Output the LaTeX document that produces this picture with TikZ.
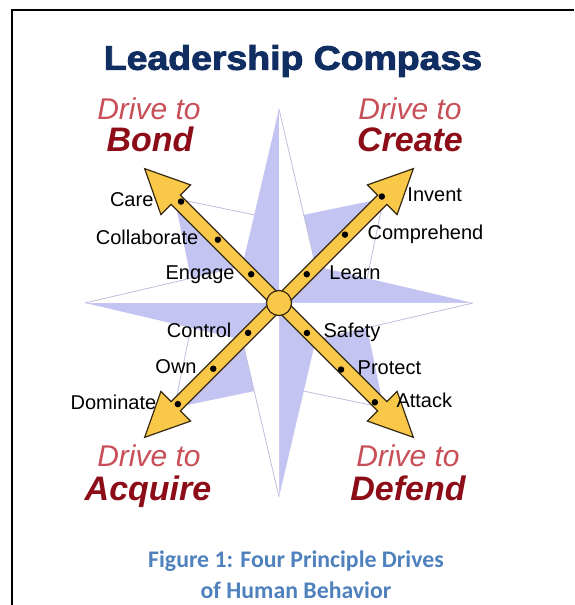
\documentclass[tikz,border=0pt]{standalone}
\usepackage{fontspec}
\setmainfont{Liberation Sans}
\newfontfamily\capfont{Carlito}
\newfontfamily\headfont[BoldFeatures={FakeBold=2.5}]{Liberation Sans}
\usepackage{tikz}
\usetikzlibrary{calc, positioning}
\definecolor{starblue}{RGB}{196,196,242}
\definecolor{starline}{RGB}{190,190,222}
\definecolor{arrowfill}{RGB}{250,200,72}
\definecolor{arrowline}{RGB}{55,42,20}
\definecolor{titlenavy}{RGB}{16,46,98}
\definecolor{drivepink}{RGB}{200,78,88}
\definecolor{drivered}{RGB}{140,12,24}
\definecolor{capblue}{RGB}{79,129,189}
\tikzstyle{bead}=[inner sep=0pt, shape=circle, fill=black, minimum size=6.5pt]
\tikzstyle{word}=[inner sep=0pt, font=\fontsize{20}{22}\selectfont, text height=14pt, text depth=4pt]
\tikzstyle{drive}=[inner sep=0pt, font=\fontsize{30}{32}\selectfont\itshape, text=drivepink, text height=21.5pt, text depth=0pt]
\tikzstyle{goal}=[inner sep=0pt, font=\fontsize{34}{36}\selectfont\bfseries\itshape, text=drivered, text height=24.5pt, text depth=0pt]
\tikzstyle{shaft}=[fill=arrowfill, draw=arrowline, line width=1.2pt, line join=miter]
\tikzstyle{capline}=[inner sep=0pt, font=\capfont\bfseries\fontsize{23.8}{26}\selectfont, text=capblue]

\begin{document}
\begin{tikzpicture}[x=1pt, y=1pt]
% the page and the frame
\useasboundingbox (-279,-302) rectangle (295,303);
\coordinate (F0) at (-267,-302);
\coordinate (F1) at (-267,293);
\coordinate (F2) at (295,293);
\draw[line width=2pt] (F0) -- (F1) -- (F2);
% the title
\node[inner sep=0pt, font=\headfont\bfseries\fontsize{34}{36}\selectfont, text=titlenavy] (title) at (14,242) {\scalebox{1.1}[1]{Leadership Compass}};
% the diagonal points of the star
\foreach \a in {45,135,225,315} {
  \fill[starblue] (0,0) -- (\a:148) -- (\a+45:83) -- cycle;
  \fill[white] (0,0) -- (\a:148) -- (\a-45:83) -- cycle;
  \draw[starline, line width=0.8pt] (\a:148) -- (\a-45:83);
}
% the main points of the star
\foreach \a in {0,90,180,270} {
  \fill[starblue] (0,0) -- (\a:194) -- (\a+45:52) -- cycle;
  \fill[white] (0,0) -- (\a:194) -- (\a-45:52) -- cycle;
  \draw[starline, line width=0.8pt] (\a:194) -- (\a-45:52);
}
% the two double arrows
\foreach \r in {135,45} {
  \draw[shaft, rotate=\r] (190,0) -- (146,21) -- (146,6.5) -- (-146,6.5) -- (-146,21) -- (-190,0)
    -- (-146,-21) -- (-146,-6.5) -- (146,-6.5) -- (146,-21) -- cycle;
}
\node[circle, inner sep=0pt, minimum size=25pt, fill=arrowfill, draw=arrowline, line width=1.2pt] (hub) at (0,0) {};
% the beads on the arrows
\node[bead, label={[word, label distance=24pt]180:Care}] (care) at (134:141) {};
\node[bead, label={[word, label distance=16pt]180:Collaborate}] (collab) at (134:88) {};
\node[bead, label={[word, label distance=13pt]180:Engage}] (engage) at (134:40) {};
\node[bead, label={[word, label distance=22pt]0:Invent}] (invent) at (46:148) {};
\node[bead, label={[word, label distance=19pt]0:Comprehend}] (compr) at (46:95) {};
\node[bead, label={[word, label distance=19pt]0:Learn}] (learn) at (46:40) {};
\node[bead, label={[word, label distance=13pt]180:Control}] (control) at (224:43) {};
\node[bead, label={[word, label distance=13pt]180:Own}] (own) at (225:93) {};
\node[bead, label={[word, label distance=18pt]180:Dominate}] (dominate) at (225:143) {};
\node[bead, label={[word, label distance=13pt]0:Safety}] (safety) at (313:41) {};
\node[bead, label={[word, label distance=13pt]0:Protect}] (protect) at (313:91) {};
\node[bead, label={[word, label distance=18pt]0:Attack}] (attack) at (314:138) {};
% the four drives
\node[drive] (bondtxt) at (-130,194) {Drive to};
\node[goal] (bond) at (-129,163.5) {Bond};
\node[drive] (createtxt) at (131,194) {Drive to};
\node[goal] (create) at (131,163.5) {Create};
\node[drive] (acquiretxt) at (-130,-152.5) {Drive to};
\node[goal] (acquire) at (-131,-185) {Acquire};
\node[drive] (defendtxt) at (129,-152.5) {Drive to};
\node[goal] (defend) at (129,-185) {Defend};
% the caption
\node[capline] (capone) at (17,-258) {Figure 1: Four Principle Drives};
\node[capline] (captwo) at (17,-287) {of Human Behavior};
\end{tikzpicture}
\end{document}
